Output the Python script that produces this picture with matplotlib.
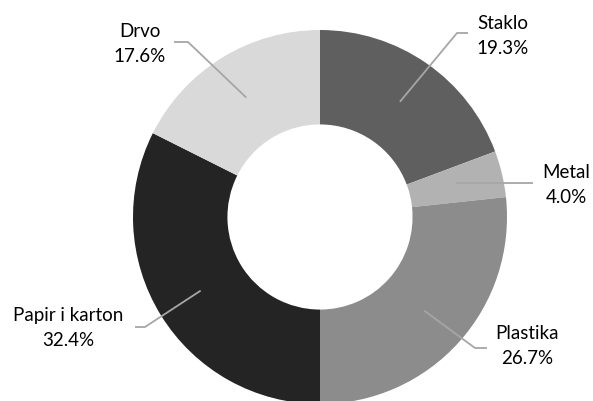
import numpy as np
import matplotlib.pyplot as plt

# Udjeli otpada po vrsti materijala
kategorije = ['Staklo', 'Metal', 'Plastika', 'Papir i karton', 'Drvo']
udjeli = [19.3, 4.0, 26.7, 32.4, 17.6]
boje = ['#5f5f5f', '#b2b2b2', '#8c8c8c', '#242424', '#d9d9d9']

# Položaj natpisa (piksel od gornjeg lijevog kuta): koljeno linije, kraj linije, centar teksta
koljena = [(457, 33), (None, None), (475, 348), (145, 327), (188, 42)]
krajevi = [(468, 33), (533, 183), (487, 348), (135, 327), (174, 42)]
tekstovi = [(503, 36, 'center'), (590, 185, 'right'), (527, 346, 'center'),
            (68, 328, 'center'), (140, 44, 'center')]

W, H = 593, 401
cx, cy, R = 320, 217, 187

fig = plt.figure(figsize=(W / 100, H / 100), dpi=100)
ax = fig.add_axes([0, 0, 1, 1])

klinovi, _ = ax.pie(udjeli, colors=boje, startangle=90, counterclock=False,
                    center=(cx, H - cy), radius=R,
                    wedgeprops=dict(width=R * 0.505, linewidth=0))

ax.set_xlim(0, W)
ax.set_ylim(0, H)
ax.set_aspect('equal')
ax.axis('off')

for k, klin in enumerate(klinovi):
    kut = np.deg2rad((klin.theta1 + klin.theta2) / 2)
    ax_ = cx + 0.75 * R * np.cos(kut)
    ay_ = (H - cy) + 0.75 * R * np.sin(kut)
    xs = [ax_]
    ys = [ay_]
    if koljena[k][0] is not None:
        xs.append(koljena[k][0])
        ys.append(H - koljena[k][1])
    else:
        ys[0] = H - krajevi[k][1]
    xs.append(krajevi[k][0])
    ys.append(H - krajevi[k][1])
    ax.plot(xs, ys, color='#a6a6a6', linewidth=1.3, solid_capstyle='butt')
    tx, ty, poravnanje = tekstovi[k]
    ax.text(tx, H - ty, f'{kategorije[k]}\n{udjeli[k]:.1f}%', ha=poravnanje,
            va='center', fontsize=13.5, family=['Lato', 'DejaVu Sans'],
            color='#000000', linespacing=1.6, multialignment='center')

fig.savefig('out.png', dpi=100)
